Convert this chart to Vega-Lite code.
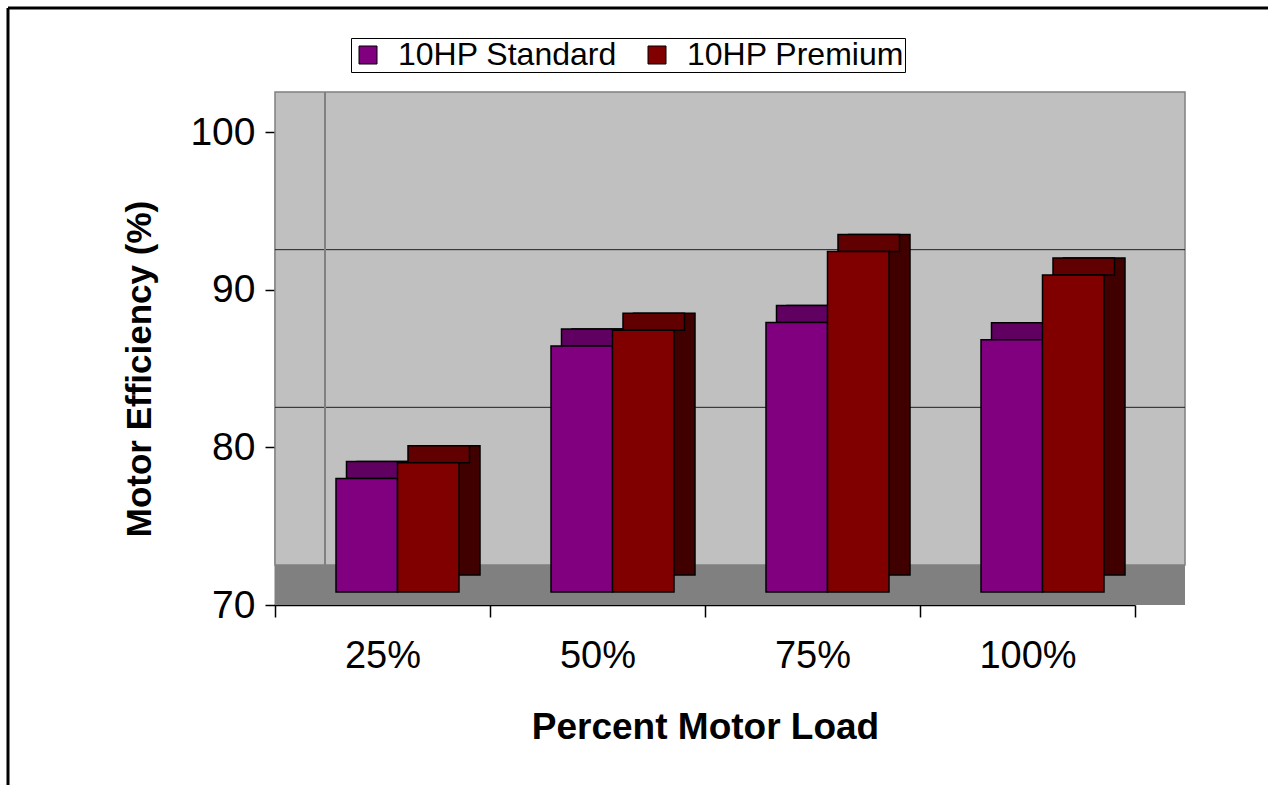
{
  "$schema": "https://vega.github.io/schema/vega-lite/v6.json",
  "autosize": "none",
  "width": 860,
  "height": 473,
  "padding": {"left": 275, "top": 132, "right": 133, "bottom": 180},
  "background": "white",
  "config": {
    "font": "Liberation Sans",
    "view": {"stroke": null, "fill": "#C0C0C0"},
    "axis": {"domainColor": "black", "tickColor": "black", "labelColor": "black", "titleColor": "black", "domainWidth": 1.5, "tickWidth": 1.5, "grid": false}
  },
  "datasets": {
    "eff": [
      {"load": "25%", "series": "10HP Standard", "efficiency": 77.2},
      {"load": "25%", "series": "10HP Premium", "efficiency": 78.2},
      {"load": "50%", "series": "10HP Standard", "efficiency": 85.6},
      {"load": "50%", "series": "10HP Premium", "efficiency": 86.6},
      {"load": "75%", "series": "10HP Standard", "efficiency": 87.1},
      {"load": "75%", "series": "10HP Premium", "efficiency": 91.6},
      {"load": "100%", "series": "10HP Standard", "efficiency": 86.0},
      {"load": "100%", "series": "10HP Premium", "efficiency": 90.1}
    ]
  },
  "resolve": {"scale": {"color": "independent", "xOffset": "independent"}, "axis": {"x": "independent", "y": "independent"}},
  "layer": [
    {
      "data": {"values": [{}]},
      "mark": {"type": "rect", "fill": "#C0C0C0", "stroke": "#808080", "strokeWidth": 1.5, "xOffset": 50, "x2Offset": 50, "yOffset": -40, "y2Offset": -40},
      "encoding": {
        "y": {"datum": 100, "type": "quantitative", "scale": {"domain": [70, 100], "nice": false, "zero": false}, "axis": null},
        "y2": {"datum": 70}
      }
    },
    {
      "data": {"values": [{"grid": 80}, {"grid": 90}]},
      "mark": {"type": "rule", "color": "#202020", "strokeWidth": 1, "xOffset": 50, "x2Offset": 50, "yOffset": -40},
      "encoding": {
        "y": {"field": "grid", "type": "quantitative", "scale": {"domain": [70, 100], "nice": false, "zero": false}, "axis": null}
      }
    },
    {
      "data": {"values": [{}]},
      "mark": {"type": "rect", "fill": "#808080", "xOffset": 50, "x2Offset": 50, "y2Offset": -40},
      "encoding": {
        "y": {"datum": 70, "type": "quantitative", "scale": {"domain": [70, 100], "nice": false, "zero": false}, "axis": null},
        "y2": {"datum": 70}
      }
    },
    {
      "data": {"values": [{}]},
      "mark": {"type": "rule", "color": "#808080", "strokeWidth": 2, "xOffset": -57.5, "yOffset": -40, "y2Offset": -40},
      "encoding": {
        "x": {"datum": "25%", "type": "nominal", "axis": null},
        "y": {"datum": 100, "type": "quantitative", "scale": {"domain": [70, 100], "nice": false, "zero": false}, "axis": null},
        "y2": {"datum": 70}
      }
    },
    {
      "data": {"name": "eff"},
      "mark": {"type": "bar", "stroke": "black", "strokeWidth": 1.5, "yOffset": -30, "y2Offset": -30},
      "encoding": {
        "x": {"field": "load", "type": "nominal", "sort": ["25%", "50%", "75%", "100%"], "scale": {"paddingInner": 0, "paddingOuter": 0}, "axis": null},
        "xOffset": {"field": "series", "type": "nominal", "sort": ["10HP Standard", "10HP Premium"], "scale": {"range": [82, 205], "padding": 0}},
        "y": {"field": "efficiency", "type": "quantitative", "scale": {"domain": [70, 100], "nice": false, "zero": false}, "axis": null},
        "y2": {"datum": 70},
        "color": {"field": "series", "type": "nominal", "scale": {"domain": ["10HP Standard", "10HP Premium"], "range": ["#400040", "#400000"]}, "legend": null}
      }
    },
    {
      "data": {"name": "eff"},
      "mark": {"type": "bar", "stroke": "black", "strokeWidth": 1.5, "yOffset": -30, "y2Offset": -13},
      "encoding": {
        "x": {"field": "load", "type": "nominal", "sort": ["25%", "50%", "75%", "100%"], "scale": {"paddingInner": 0, "paddingOuter": 0}, "axis": null},
        "xOffset": {"field": "series", "type": "nominal", "sort": ["10HP Standard", "10HP Premium"], "scale": {"range": [71.5, 194.5], "padding": 0}},
        "y": {"field": "efficiency", "type": "quantitative", "scale": {"domain": [70, 100], "nice": false, "zero": false}, "axis": null},
        "y2": {"field": "efficiency"},
        "color": {"field": "series", "type": "nominal", "scale": {"domain": ["10HP Standard", "10HP Premium"], "range": ["#600060", "#600000"]}, "legend": null}
      }
    },
    {
      "data": {"name": "eff"},
      "mark": {"type": "bar", "stroke": "black", "strokeWidth": 1.5, "yOffset": -13, "y2Offset": -13},
      "encoding": {
        "x": {"field": "load", "type": "nominal", "sort": ["25%", "50%", "75%", "100%"], "scale": {"paddingInner": 0, "paddingOuter": 0},
          "axis": {"title": "Percent Motor Load", "labelAngle": 0, "tickBand": "extent", "tickSize": 12, "labelPadding": 20, "labelFontSize": 38, "titleFontSize": 37, "titleFontWeight": "bold", "titlePadding": 34}},
        "xOffset": {"field": "series", "type": "nominal", "sort": ["10HP Standard", "10HP Premium"], "scale": {"range": [61, 184], "padding": 0}},
        "y": {"field": "efficiency", "type": "quantitative", "scale": {"domain": [70, 100], "nice": false, "zero": false},
          "axis": {"title": "Motor Efficiency (%)", "values": [70, 80, 90, 100], "tickSize": 10, "labelPadding": 10, "labelFontSize": 39, "titleFontSize": 35, "titleFontWeight": "bold", "titlePadding": 32}},
        "y2": {"datum": 70},
        "color": {"field": "series", "type": "nominal", "scale": {"domain": ["10HP Standard", "10HP Premium"], "range": ["#800080", "#800000"]},
          "legend": {"title": null, "orient": "none", "legendX": 76, "legendY": -94, "direction": "horizontal", "strokeColor": "black", "fillColor": "white", "padding": 1, "symbolType": "square", "symbolSize": 324, "symbolStrokeColor": "black", "symbolStrokeWidth": 1, "labelFontSize": 32, "labelLimit": 500, "labelColor": "black", "labelOffset": 14, "columnPadding": 24}}
      }
    },
    {
      "data": {"values": [{}]},
      "mark": {"type": "rule", "color": "black", "strokeWidth": 3, "xOffset": -374.5, "x2Offset": 600, "yOffset": -124},
      "encoding": {
        "x": {"datum": "25%", "type": "nominal", "axis": null},
        "x2": {"datum": "100%"},
        "y": {"datum": 100, "type": "quantitative", "scale": {"domain": [70, 100], "nice": false, "zero": false}, "axis": null}
      }
    },
    {
      "data": {"values": [{}]},
      "mark": {"type": "rule", "color": "black", "strokeWidth": 3, "xOffset": -374.5, "yOffset": -124, "y2Offset": 300},
      "encoding": {
        "x": {"datum": "25%", "type": "nominal", "axis": null},
        "y": {"datum": 100, "type": "quantitative", "scale": {"domain": [70, 100], "nice": false, "zero": false}, "axis": null},
        "y2": {"datum": 70}
      }
    }
  ]
}
